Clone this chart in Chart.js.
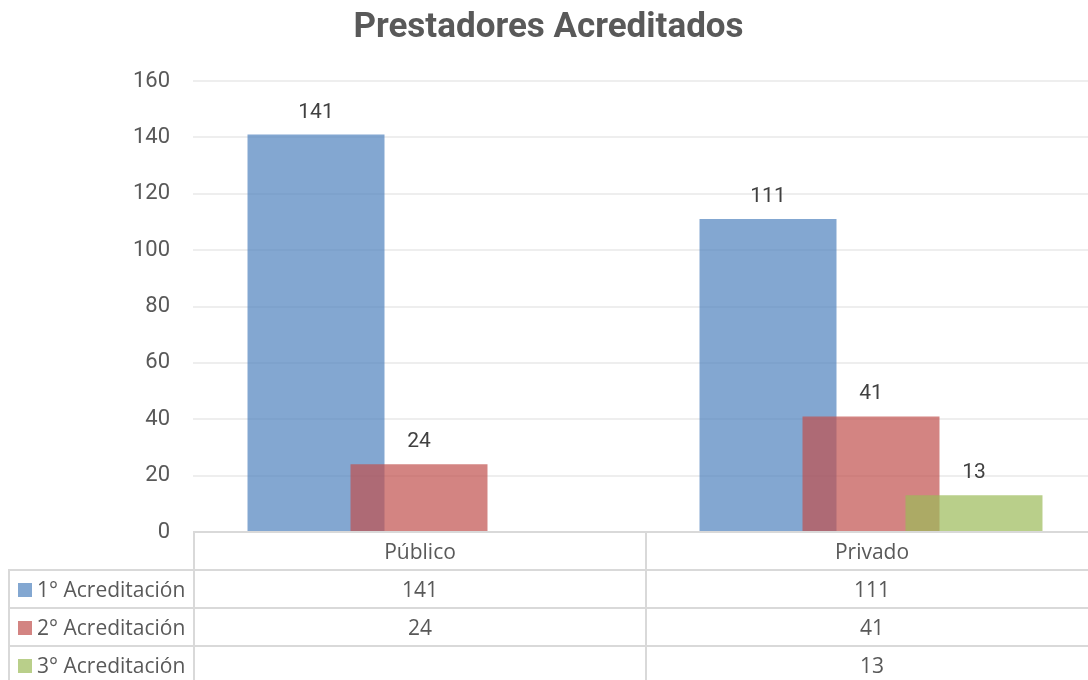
<!DOCTYPE html>
<html>
<head>
<meta charset="utf-8">
<script src="https://cdn.jsdelivr.net/npm/chart.js@4/dist/chart.umd.min.js"></script>
<style>
  body { margin: 0; background: #fff; }
  #wrap { position: relative; width: 1088px; height: 680px; overflow: hidden; }
  #chart { position: absolute; left: 0; top: 0; }
  #dataTable {
    position: absolute; left: 8px; top: 531px; width: 1089px;
    border-collapse: collapse; table-layout: fixed;
    font-family: 'Open Sans', sans-serif; font-size: 21px; color: #595959;
  }
  #dataTable td { border: 2px solid #d9d9d9; padding: 0; text-align: center; white-space: nowrap; }
  #dataTable tr { height: 38px; }
  #dataTable td.key { text-align: left; padding-left: 8px; }
  #dataTable td.blank { border-top: none; border-left: none; }
  .swatch { display: inline-block; width: 14px; height: 14px; margin-right: 5px; vertical-align: 0px; }
</style>
</head>
<body>
<div id="wrap">
  <canvas id="chart" width="1100" height="680"></canvas>
  <table id="dataTable"></table>
</div>
<script>
// chart data
const title = 'Prestadores Acreditados';
const categories = ['Público', 'Privado'];
const seriesNames = ['1° Acreditación', '2° Acreditación', '3° Acreditación'];
const primera = [141, 111];
const segunda = [24, 41];
const tercera = [null, 13];
const yTicks = [0, 20, 40, 60, 80, 100, 120, 140, 160];

const seriesValues = [primera, segunda, tercera];
const colors = ['rgba(79, 129, 189, 0.7)', 'rgba(192, 80, 77, 0.7)', 'rgba(155, 187, 89, 0.7)'];

const font = "Roboto, 'Liberation Sans', sans-serif";

// draw series in index order so later ones sit on top where the bars overlap
const drawOrder = {
    id: 'drawOrder',
    beforeDatasetsDraw(chart) {
        const ctx = chart.ctx;
        const area = chart.chartArea;
        ctx.save();
        ctx.beginPath();
        ctx.rect(area.left, area.top, area.right - area.left, area.bottom - area.top);
        ctx.clip();
        chart.data.datasets.forEach((ds, i) => {
            chart.getDatasetMeta(i).controller.draw();
        });
        ctx.restore();
        return false;
    }
};

// value labels above each bar (afterDraw, since the default dataset pass is cancelled)
const valueLabels = {
    id: 'valueLabels',
    afterDraw(chart) {
        const ctx = chart.ctx;
        ctx.save();
        ctx.font = '21px ' + font;
        ctx.fillStyle = '#404040';
        ctx.textAlign = 'center';
        ctx.textBaseline = 'alphabetic';
        chart.data.datasets.forEach((ds, i) => {
            chart.getDatasetMeta(i).data.forEach((bar, j) => {
                const v = ds.data[j];
                if (v === null || v === undefined) return;
                ctx.fillText(v, bar.x, bar.y - 17);
            });
        });
        ctx.restore();
    }
};

new Chart(document.getElementById('chart'), {
    type: 'bar',
    data: {
        labels: categories,
        datasets: seriesNames.map((name, i) => ({
            label: name,
            data: seriesValues[i],
            backgroundColor: colors[i],
            borderWidth: 0,
            categoryPercentage: 0.6836,
            barPercentage: 1.33
        }))
    },
    options: {
        responsive: false,
        animation: false,
        layout: { padding: { left: 0, right: 3, top: 0, bottom: 148 } },
        plugins: {
            legend: { display: false },
            tooltip: { enabled: false },
            title: {
                display: true,
                text: title,
                color: '#595959',
                font: { family: font, size: 35, weight: 'bold' },
                padding: { top: 7, bottom: 32 }
            }
        },
        scales: {
            x: { display: false },
            y: {
                min: 0,
                max: 160,
                afterBuildTicks: (scale) => { scale.ticks = yTicks.map(v => ({ value: v })); },
                afterFit: (scale) => { scale.width = 193; },
                border: { display: false },
                grid: { color: '#eeeeee', lineWidth: 2, drawTicks: false },
                ticks: {
                    color: '#595959',
                    padding: 23,
                    font: { family: font, size: 22 }
                }
            }
        }
    },
    plugins: [drawOrder, valueLabels]
});

// data table under the plot
function buildTable() {
    const table = document.getElementById('dataTable');
    let html = '<colgroup><col style="width:185px"><col style="width:452px"><col style="width:452px"></colgroup>';
    html += '<tr><td class="blank"></td>' + categories.map(c => `<td>${c}</td>`).join('') + '</tr>';
    seriesNames.forEach((name, i) => {
        html += `<tr><td class="key"><span class="swatch" style="background:${colors[i]}"></span>${name}</td>`;
        html += seriesValues[i].map(v => `<td>${v === null ? '' : v}</td>`).join('') + '</tr>';
    });
    table.innerHTML = html;
}

buildTable();
</script>
</body>
</html>
